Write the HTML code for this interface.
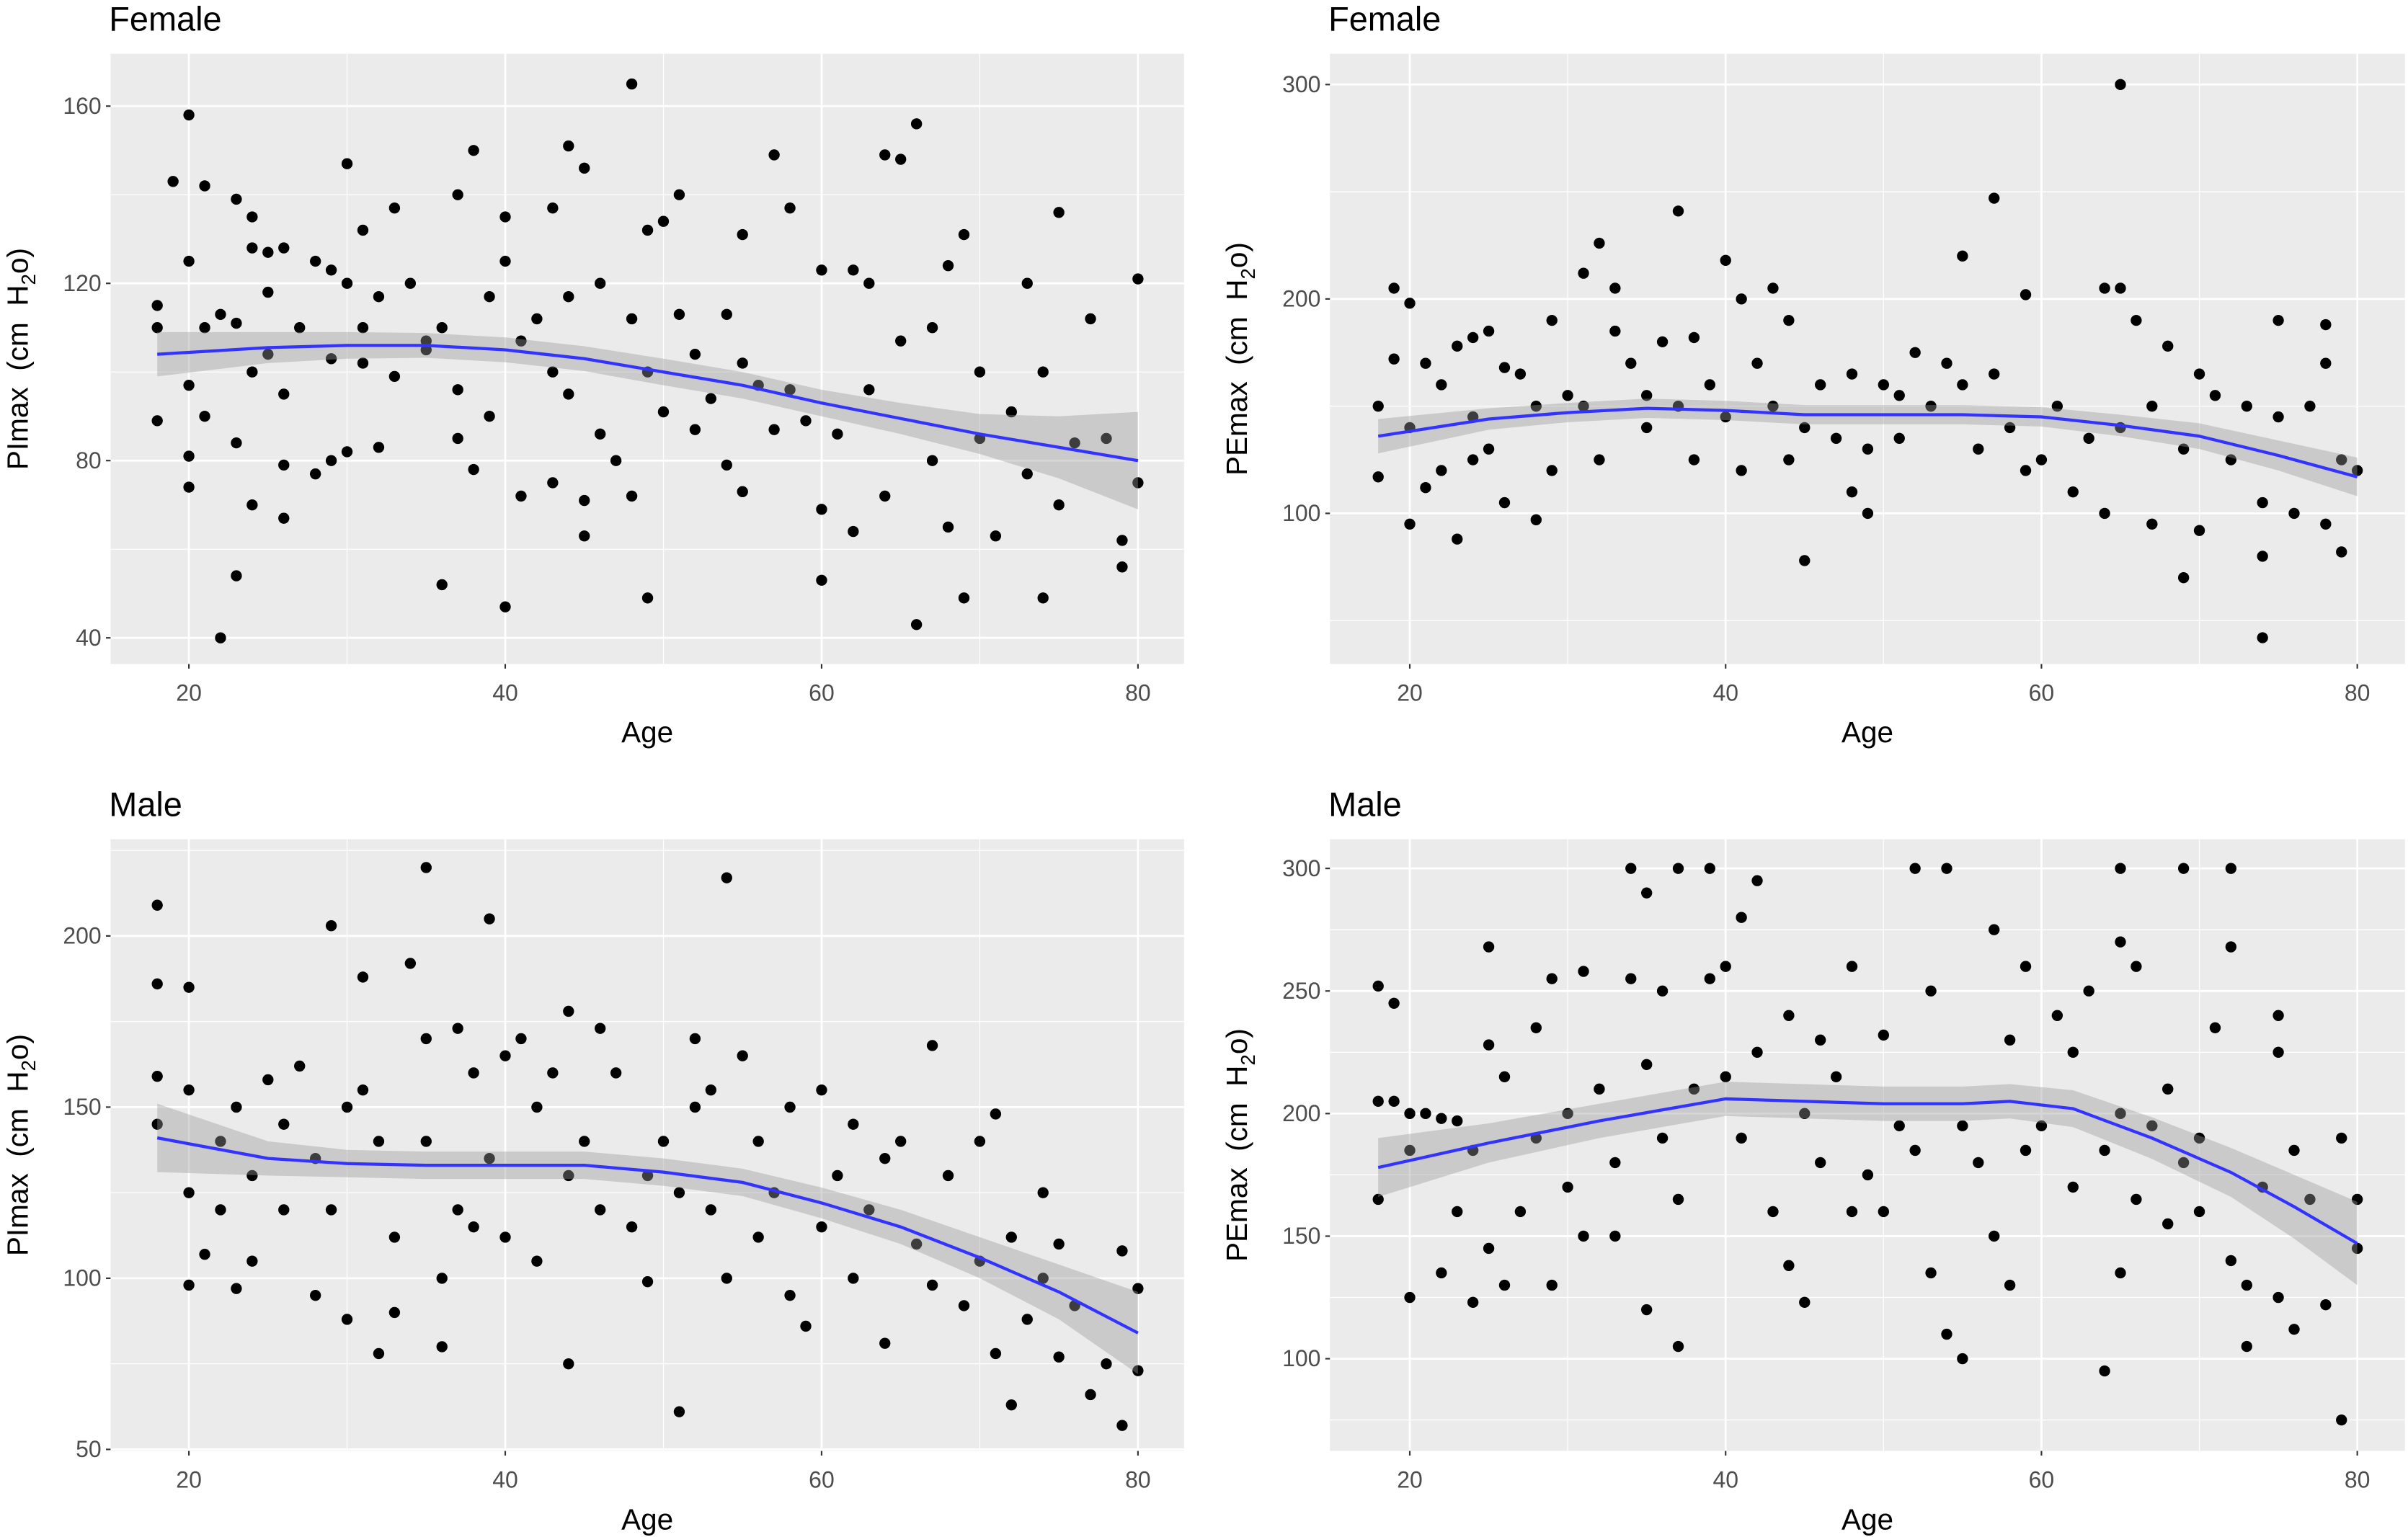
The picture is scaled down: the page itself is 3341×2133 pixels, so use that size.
<!DOCTYPE html>
<html><head><meta charset="utf-8">
<style>
html,body{margin:0;padding:0;background:#fff;}
svg{display:block;}
text{font-family:"Liberation Sans",Arial,sans-serif;}
</style></head>
<body>
<svg id="chart" width="3341" height="2133" viewBox="0 0 1568 1000" preserveAspectRatio="none" xmlns="http://www.w3.org/2000/svg"></svg>
<script>
// ---- data ----
const femPIAge=[18,18,18,19,20,20,20,20,20,21,21,21,22,22,23,23,23,23,24,24,24,24,25,25,25,26,26,26,26,27,28,28,29,29,29,30,30,30,31,31,31,32,32,33,33,34,35,35,36,36,37,37,37,38,38,39,39,40,40,40,41,41,42,43,43,43,44,44,44,45,45,45,46,46,47,48,48,48,49,49,49,50,50,51,51,52,52,53,54,54,55,55,55,56,57,57,58,58,59,60,60,60,61,62,62,63,63,64,64,65,65,66,66,67,67,68,68,69,69,70,70,71,72,73,73,74,74,75,75,76,77,78,79,79,80,80];
const femPIVal=[115,89,110,143,158,125,97,81,74,142,110,90,113,40,139,111,84,54,135,128,100,70,127,118,104,128,95,79,67,110,125,77,123,103,80,147,120,82,132,110,102,117,83,137,99,120,107,105,52,110,140,96,85,150,78,117,90,135,125,47,107,72,112,137,100,75,151,117,95,146,63,71,120,86,80,165,112,72,132,49,100,134,91,140,113,104,87,94,113,79,131,102,73,97,149,87,137,96,89,123,69,53,86,123,64,120,96,149,72,148,107,156,43,110,80,124,65,131,49,100,85,63,91,120,77,100,49,136,70,84,112,85,62,56,121,75];
const femPIFitAge=[18,25,30,35,40,45,50,55,60,65,70,75,80];
const femPIFit=[104,105.5,106,106,105,103,100,97,93,89.5,86,83,80];
const femPISe=[5,3.5,3,2.8,2.8,2.8,3,3,3,3.5,4.5,7,11];

const femPEAge=[18,18,19,19,20,20,20,21,21,22,22,23,23,24,24,24,25,25,26,26,27,28,28,29,29,30,31,31,32,32,33,33,34,35,35,36,37,37,38,38,39,40,40,41,41,42,43,43,44,44,45,45,46,47,48,48,49,49,50,51,51,52,53,54,55,55,56,57,57,58,59,59,60,61,62,63,64,64,65,65,65,66,67,67,68,69,69,70,70,71,72,73,74,74,74,75,75,76,77,78,78,78,79,79,80];
const femPEVal=[150,117,205,172,198,140,95,170,112,160,120,178,88,182,145,125,185,130,168,105,165,150,97,190,120,155,212,150,226,125,205,185,170,140,155,180,241,150,182,125,160,218,145,200,120,170,150,205,190,125,78,140,160,135,165,110,130,100,160,155,135,175,150,170,220,160,130,247,165,140,202,120,125,150,110,135,205,100,300,205,140,190,150,95,178,70,130,165,92,155,125,150,42,80,105,190,145,100,150,188,170,95,125,82,120];
const femPEFitAge=[18,25,30,35,40,45,50,55,60,65,70,75,80];
const femPEFit=[136,144,147,149,148,146,146,146,145,141,136,127,117];
const femPESe=[8,5,4.5,4.5,4.5,4.5,4.5,4.5,4.5,5,6,7,9];

const malPIAge=[18,18,18,18,20,20,20,20,21,22,22,23,23,24,24,25,26,26,27,28,28,29,29,30,30,31,31,32,32,33,33,34,35,35,35,36,36,37,37,38,38,39,39,40,40,41,42,42,43,44,44,44,45,46,46,47,48,49,49,50,51,51,52,52,53,53,54,54,55,56,56,57,58,58,59,60,60,61,62,62,63,64,64,65,66,67,67,68,69,70,70,71,71,72,72,73,74,74,75,75,76,77,78,79,79,80,80];
const malPIVal=[209,186,159,145,185,155,125,98,107,140,120,150,97,130,105,158,145,120,162,135,95,203,120,150,88,188,155,140,78,112,90,192,220,170,140,100,80,173,120,160,115,205,135,165,112,170,150,105,160,178,75,130,140,173,120,160,115,130,99,140,61,125,170,150,155,120,217,100,165,140,112,125,150,95,86,155,115,130,145,100,120,135,81,140,110,168,98,130,92,140,105,78,148,63,112,88,125,100,110,77,92,66,75,57,108,97,73];
const malPIFitAge=[18,25,30,35,40,45,50,55,60,65,70,75,80];
const malPIFit=[141,135,133.5,133,133,133,131,128,122,115,106,96,84];
const malPISe=[10,5,4,4,4,4,4,4,4.5,5,6,8,12];

const malPEAge=[18,18,18,19,19,20,20,20,21,22,22,23,23,24,24,25,25,25,26,26,27,28,28,29,29,30,30,31,31,32,33,33,34,34,35,35,35,36,36,37,37,37,38,39,39,40,40,41,41,42,42,43,44,44,45,45,46,46,47,48,48,49,50,50,51,52,52,53,53,54,54,55,55,56,57,57,58,58,59,59,60,61,62,62,63,64,64,65,65,65,65,66,66,67,68,68,69,69,70,70,71,72,72,72,73,73,74,75,75,75,76,76,77,78,79,79,80,80];
const malPEVal=[252,205,165,245,205,200,185,125,200,198,135,197,160,123,185,268,228,145,215,130,160,235,190,255,130,200,170,258,150,210,180,150,300,255,290,220,120,250,190,300,105,165,210,300,255,260,215,280,190,295,225,160,240,138,200,123,230,180,215,260,160,175,232,160,195,300,185,250,135,300,110,195,100,180,275,150,230,130,260,185,195,240,225,170,250,95,185,300,270,200,135,260,165,195,210,155,300,180,190,160,235,300,268,140,130,105,170,240,225,125,185,112,165,122,75,190,165,145];
const malPEFitAge=[18,25,32,40,45,50,55,58,62,67,72,76,80];
const malPEFit=[178,188,197,206,205,204,204,205,202,190,176,162,147];
const malPESe=[12,8,7,7,7,7,7,7,7.5,8.5,10,13,17];

// ---- drawing ----
const svg=document.getElementById('chart');
const NS='http://www.w3.org/2000/svg';
function mk(tag,attrs,parent){const e=document.createElementNS(NS,tag);for(const k in attrs)e.setAttribute(k,attrs[k]);(parent||svg).appendChild(e);return e;}

function panel(cfg){
  const g=mk('g',{});
  
  
  const xs=a=>cfg.xa+(a-20)*cfg.xk;
  const ys=v=>cfg.ya-(v-cfg.vref)*cfg.yk;
  const bg=mk('rect',{x:cfg.x0,y:cfg.y0,width:cfg.x1-cfg.x0,height:cfg.y1-cfg.y0,fill:'#ebebeb'},g);
  
  
  cfg.yminor.forEach(v=>{const y=ys(v);if(y>cfg.y0&&y<cfg.y1)mk('line',{x1:cfg.x0,x2:cfg.x1,y1:y,y2:y,stroke:'#fff','stroke-width':0.6},g);});
  [30,50,70].forEach(a=>{const x=xs(a);mk('line',{x1:x,x2:x,y1:cfg.y0,y2:cfg.y1,stroke:'#fff','stroke-width':0.6},g);});
  cfg.ymajor.forEach(v=>{const y=ys(v);mk('line',{x1:cfg.x0,x2:cfg.x1,y1:y,y2:y,stroke:'#fff','stroke-width':1.3},g);
    mk('line',{x1:cfg.x0-3,x2:cfg.x0,y1:y,y2:y,stroke:'#333','stroke-width':1},g);
    const t=mk('text',{x:cfg.x0-6,y:y+5,'text-anchor':'end','font-size':15,fill:'#4d4d4d'},g);t.textContent=v;
    });
  [20,40,60,80].forEach(a=>{const x=xs(a);mk('line',{x1:x,x2:x,y1:cfg.y0,y2:cfg.y1,stroke:'#fff','stroke-width':1.3},g);
    mk('line',{x1:x,x2:x,y1:cfg.y1,y2:cfg.y1+3,stroke:'#333','stroke-width':1},g);
    const t=mk('text',{x:x,y:cfg.y1+24,'text-anchor':'middle','font-size':15,fill:'#4d4d4d'},g);t.textContent=a;
    });
  cfg.age.forEach((a,i)=>{const c=mk('circle',{cx:xs(a),cy:ys(cfg.val[i]),r:3.6,fill:'#000'},g);
    });
  let up='',lo='';
  cfg.fa.forEach((a,i)=>{up+=(i?'L':'M')+xs(a)+','+ys(cfg.fv[i]+cfg.fs[i]);});
  for(let i=cfg.fa.length-1;i>=0;i--){lo+='L'+xs(cfg.fa[i])+','+ys(cfg.fv[i]-cfg.fs[i]);}
  const band=mk('path',{d:up+lo+'Z',fill:'#999','fill-opacity':0.4},g);
  
  let d='';cfg.fa.forEach((a,i)=>{d+=(i?'L':'M')+xs(a)+','+ys(cfg.fv[i]);});
  const ln=mk('path',{d:d,fill:'none',stroke:'#3333ff','stroke-width':2},g);
  
  const tt=mk('text',{x:cfg.x0-1,y:cfg.y0-15,'font-size':22,fill:'#000'},g);tt.textContent=cfg.title;
  
  const xt=mk('text',{x:(cfg.x0+cfg.x1)/2,y:cfg.y1+51,'text-anchor':'middle','font-size':19,fill:'#000'},g);xt.textContent='Age';
  
  const cy=(cfg.y0+cfg.y1)/2, cx=cfg.x0-54;
  const yt=mk('text',{x:cx,y:cy,'text-anchor':'middle','font-size':19,fill:'#000',transform:'rotate(-90 '+cx+' '+cy+')'},g);
  
  yt.innerHTML=cfg.ylab+'\u00a0 (cm\u00a0 H<tspan font-size="13" dy="5">2</tspan><tspan dy="-5">o)</tspan>';
}

panel({name:'female-pimax-panel',title:'Female',ylab:'PImax',x0:72,x1:771,y0:35,y1:432,xa:123,xk:10.3,ya:415,vref:40,yk:2.883,
  ymajor:[40,80,120,160],yminor:[60,100,140],age:femPIAge,val:femPIVal,fa:femPIFitAge,fv:femPIFit,fs:femPISe});
panel({name:'female-pemax-panel',title:'Female',ylab:'PEmax',x0:866,x1:1566,y0:35,y1:432,xa:918,xk:10.283,ya:334,vref:100,yk:1.395,
  ymajor:[100,200,300],yminor:[50,150,250],age:femPEAge,val:femPEVal,fa:femPEFitAge,fv:femPEFit,fs:femPESe});
panel({name:'male-pimax-panel',title:'Male',ylab:'PImax',x0:72,x1:771,y0:546,y1:944,xa:123,xk:10.3,ya:943,vref:50,yk:2.227,
  ymajor:[50,100,150,200],yminor:[75,125,175,225],age:malPIAge,val:malPIVal,fa:malPIFitAge,fv:malPIFit,fs:malPISe});
panel({name:'male-pemax-panel',title:'Male',ylab:'PEmax',x0:866,x1:1566,y0:546,y1:944,xa:918,xk:10.283,ya:884,vref:100,yk:1.595,
  ymajor:[100,150,200,250,300],yminor:[75,125,175,225,275],age:malPEAge,val:malPEVal,fa:malPEFitAge,fv:malPEFit,fs:malPESe});
</script>
</body></html>
